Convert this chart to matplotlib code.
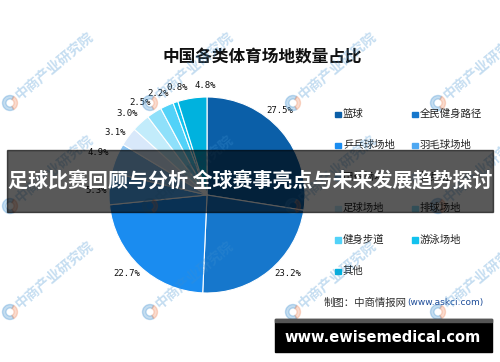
import matplotlib
matplotlib.use("Agg")
import matplotlib.pyplot as plt
from matplotlib.patches import Rectangle, Wedge

plt.rcParams['font.family'] = ['Noto Sans CJK SC', 'DejaVu Sans']

# data
categories = ['篮球', '全民健身路径', '乒乓球场地', '羽毛球场地', '田径场地', '健身房',
              '足球场地', '排球场地', '健身步道', '游泳场地', '其他']
shares = [27.5, 23.2, 22.7, 5.3, 4.9, 3.1, 3.0, 2.5, 2.2, 0.8, 4.8]
colors = ['#0b5fa8', '#1677cc', '#1a8cf0', '#4ea8f2', '#8cc4f2', '#d8e8fa',
          '#c2ecfb', '#8ee0fa', '#52d2f8', '#12c2ee', '#00b2de']

# small pixel nudges for the percent labels (layout only)
label_nudge = [(-11, -13), (11, -7), (-4, -2), (0, 3), (-6, -1), (-3, 3),
               (-5, 0), (-7, 1), (-4, 0), (6, -3), (15, 0)]

title = '中国各类体育场地数量占比'
banner = '足球比赛回顾与分析 全球赛事亮点与未来发展趋势探讨'
source = '制图：中商情报网'
source_url = '(www.askci.com)'
site = 'www.ewisemedical.com'

W, H = 500, 362
fig = plt.figure(figsize=(W / 100, H / 100), dpi=100)
fig.patch.set_facecolor('white')


def fx(x):
    return x / W


def fy(y):
    return 1 - y / H


# pie, radius 98 px centred at (207, 195)
R = 98
ax = fig.add_axes([fx(109), fy(293), 196 / W, 196 / H])
wedges, texts, autotexts = ax.pie(
    shares, colors=colors, startangle=90, counterclock=False,
    autopct='%.1f%%', pctdistance=1.13,
    wedgeprops=dict(edgecolor='white', linewidth=0.8),
    textprops=dict(fontsize=6.5, family='DejaVu Sans Mono', color='#111111'))
ax.set_xlim(-1, 1)
ax.set_ylim(-1, 1)
for t, (dx, dy) in zip(autotexts, label_nudge):
    x, y = t.get_position()
    t.set_position((x + dx / R, y - dy / R))

fig.text(fx(262), fy(57), title, ha='center', va='center', fontsize=12,
         fontweight='bold', color='#111111')

# legend, row-wise in two columns
for i, (lab, col) in enumerate(zip(categories, colors)):
    row, c = divmod(i, 2)
    x0 = 335 + c * 77
    y0 = 114 + row * 31.4
    fig.patches.append(Rectangle((fx(x0), fy(y0 + 3)), 5.5 / W, 5.5 / H,
                                 transform=fig.transFigure, color=col))
    fig.text(fx(x0 + 8), fy(y0), lab, ha='left', va='center', fontsize=7.5,
             color='#222222')

fig.text(fx(324), fy(303), source, ha='left', va='center', fontsize=7.5, color='#333333')
fig.text(fx(407), fy(303), source_url, ha='left', va='center', fontsize=6.5,
         color='#1f4e9a', family='DejaVu Sans')

# watermarks
for ly in [103, 206, 312]:
    for lx in [10, 150, 293, 438]:
        fig.text(fx(lx + 7), fy(ly - 6), '中商产业研究院', rotation=40,
                 rotation_mode='anchor', ha='left', va='center', fontsize=10,
                 fontweight='bold', color='#3d8fd0', alpha=0.3, zorder=3)
        cx, cy = lx / 100, (H - ly) / 100
        fig.patches.append(Wedge((cx, cy), 0.075, 60, 300, width=0.035,
                                 transform=fig.dpi_scale_trans,
                                 color='#3d8fd0', alpha=0.3, zorder=3))
        fig.patches.append(Wedge((cx, cy), 0.075, -60, 60, width=0.035,
                                 transform=fig.dpi_scale_trans,
                                 color='#f08a5d', alpha=0.3, zorder=3))

# dark overlay banner
fig.patches.append(Rectangle((fx(7), fy(212)), 486 / W, 62 / H,
                             transform=fig.transFigure, color='black',
                             alpha=0.65, zorder=10))
fig.text(fx(250), fy(181), banner, ha='center', va='center', fontsize=14.4,
         fontweight='bold', color='white', zorder=11)

# bottom site banner
fig.patches.append(Rectangle((fx(275), fy(352)), 217 / W, 33 / H,
                             transform=fig.transFigure, color='black', zorder=10))
fig.patches.append(Rectangle((fx(275), fy(322)), 217 / W, 3 / H,
                             transform=fig.transFigure, color='#555555', zorder=11))
fig.text(fx(383), fy(337), site, ha='center', va='center', fontsize=10.5,
         fontweight='bold', color='white', family='DejaVu Sans', zorder=12)

fig.savefig('out.png', dpi=100)
